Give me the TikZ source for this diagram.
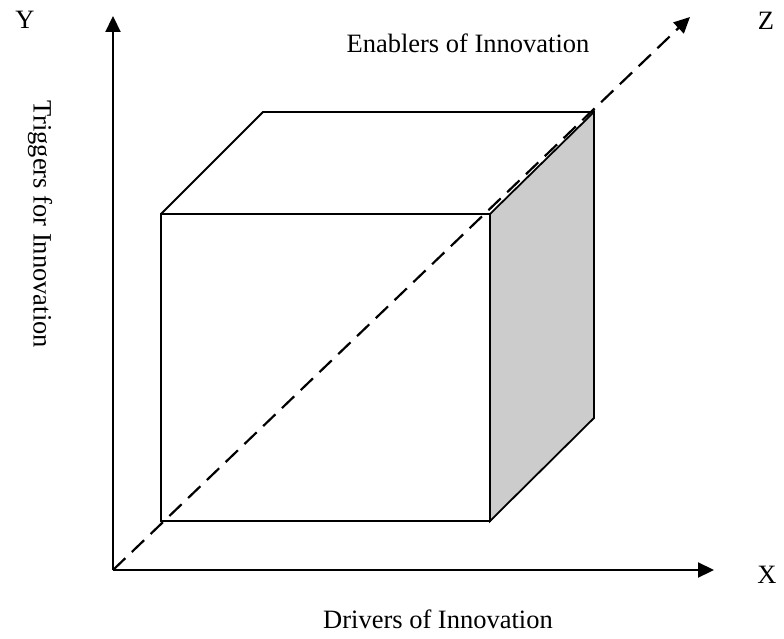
\documentclass[tikz,border=0pt]{standalone}
\usepackage{fontspec}
\setmainfont{Liberation Serif}
\usetikzlibrary{arrows.meta}
\begin{document}
\begin{tikzpicture}[x=1pt,y=-1pt,
  axis/.style={line width=2.2pt,-{Triangle[length=16pt,width=15pt]}},
  edge/.style={line width=1.8pt,line join=miter},
  label/.style={font=\fontsize{26.5}{31}\selectfont,inner sep=0pt},
  zaxis/.style={line width=2.2pt,dash pattern=on 17pt off 9pt,-{Triangle[length=16pt,width=15pt]}}]
\useasboundingbox (0,0) rectangle (784,639);
% axis end points
\coordinate (O) at (113,570);
\coordinate (Yend) at (113,16);
\coordinate (Xend) at (714,570);
\coordinate (Zend) at (690,17);
% cube corners
\coordinate (fbl) at (161,521);
\coordinate (fbr) at (490,521);
\coordinate (ftl) at (161,214);
\coordinate (ftr) at (490,214);
\coordinate (btl) at (263,112);
\coordinate (btr) at (594,112);
\coordinate (bbr) at (594,418);
% shaded side face
\filldraw[edge,fill=black!20] (fbr) -- (ftr) -- (btr) -- (bbr) -- cycle;
% front face and top face
\draw[edge] (fbl) rectangle (ftr);
\draw[edge] (ftl) -- (btl) -- (btr);
% axes
\draw[axis] (O) -- (Yend);
\draw[axis] (O) -- (Xend);
\draw[zaxis] (O) -- (Zend);
% labels
\node[label] (ylab) at (25,20) {Y};
\node[label] (zlab) at (766,21) {Z};
\node[label] (xlab) at (767,575) {X};
\node[label] (enab) at (468,43) {Enablers of Innovation};
\node[label] (driv) at (438,619) {Drivers of Innovation};
\node[label,rotate=-90] (trig) at (40,224) {Triggers for Innovation};
\end{tikzpicture}
\end{document}
